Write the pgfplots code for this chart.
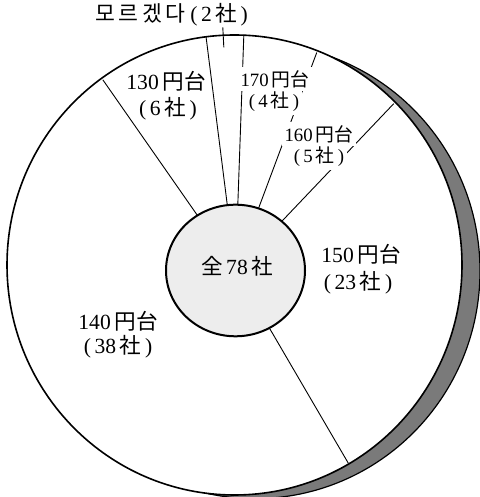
\documentclass[border=0pt]{standalone}
\usepackage{pgfplots}
\pgfplotsset{compat=1.18}
\usepackage{fontspec}
\setmainfont{Liberation Serif}
\newfontfamily\jp{Noto Sans CJK JP}
\newfontfamily\kr{Noto Sans CJK KR}
\newcommand\lab{\fontsize{10.8}{12}\selectfont}
\newcommand\labs{\fontsize{9.4}{11}\selectfont}
\tikzset{lab/.style={font=\lab}, labs/.style={font=\labs}}
% counts: 모르겠다 2, 170円台 4, 160円台 5, 150円台 23, 140円台 38, 130円台 6 (total 78)
% boundary angles (math convention) = 97.2 - cumulative*360/78
\begin{document}
\begin{tikzpicture}
\begin{axis}[x=0.5pt, y=0.5pt, xmin=-235.5, xmax=243.5, ymin=-227, ymax=270,
  hide axis, clip=false, anchor=south west, at={(0,0)}]
% shadow
\draw[black, line width=0.6pt, fill=black!52] (axis cs:19.5,-1) ellipse [x radius=112.5pt, y radius=113.8pt];
% disc
\draw[black, line width=0.8pt, fill=white] (axis cs:-1,5) ellipse [x radius=113.75pt, y radius=115pt];
% slice boundaries (cumulative 0, 2, 6, 11, 34, 72)
\addplot[black, line width=0.45pt, data cs=polar] coordinates {(97.2,60) (97.2,235.0)};
\addplot[black, line width=0.45pt, data cs=polar] coordinates {(87.97,60) (87.97,235.3)};
\addplot[black, line width=0.45pt, data cs=polar] coordinates {(69.51,60) (69.51,232.2)};
\addplot[black, line width=0.45pt, data cs=polar] coordinates {(46.43,60) (46.43,229.7)};
\addplot[black, line width=0.45pt, data cs=polar] coordinates {(-59.72,60) (-59.72,223.6)};
\addplot[black, line width=0.45pt, data cs=polar] coordinates {(124.9,60) (124.9,231.9)};
% leader for 모르겠다
\addplot[black, line width=0.45pt, data cs=polar] coordinates {(93,223) (93,243)};
% centre
\draw[black, line width=1pt, fill=gray!14] (axis cs:0,-0.5) ellipse [x radius=34.75pt, y radius=32.9pt];
% labels
\node[lab] at (axis cs:-64,255) {{\kr 모\hspace{1.8pt}르\hspace{1.8pt}겠\hspace{1.8pt}다}\hspace{2.5pt}(\,2\,{\jp 社}\,)};
\node[lab, fill=white, inner sep=1pt] at (axis cs:-69.5,189) {130\,{\jp 円台}};
\node[lab, fill=white, inner sep=1pt] at (axis cs:-67.5,161) {(\,6\,{\jp 社}\,)};
\node[labs, fill=white, inner sep=1.5pt] at (axis cs:39.5,191) {170\,{\jp 円台}};
\node[labs, fill=white, inner sep=1.5pt] at (axis cs:38.5,168) {(\,4\,{\jp 社}\,)};
\node[labs, fill=white, inner sep=1.5pt] at (axis cs:83.5,136) {160\,{\jp 円台}};
\node[labs, fill=white, inner sep=1.5pt] at (axis cs:83.5,113) {(\,5\,{\jp 社}\,)};
\node[lab] at (axis cs:125.5,16) {150\,{\jp 円台}};
\node[lab] at (axis cs:122.5,-13) {(\,23\,{\jp 社}\,)};
\node[lab] at (axis cs:-117.5,-51) {140\,{\jp 円台}};
\node[lab] at (axis cs:-117.5,-77) {(\,38\,{\jp 社}\,)};
\node[lab] at (axis cs:1.5,4) {{\jp 全}\,78\,{\jp 社}};
\end{axis}
\pgfresetboundingbox
\path (0,0) rectangle (239.5pt,248.5pt);
\end{tikzpicture}
\end{document}
